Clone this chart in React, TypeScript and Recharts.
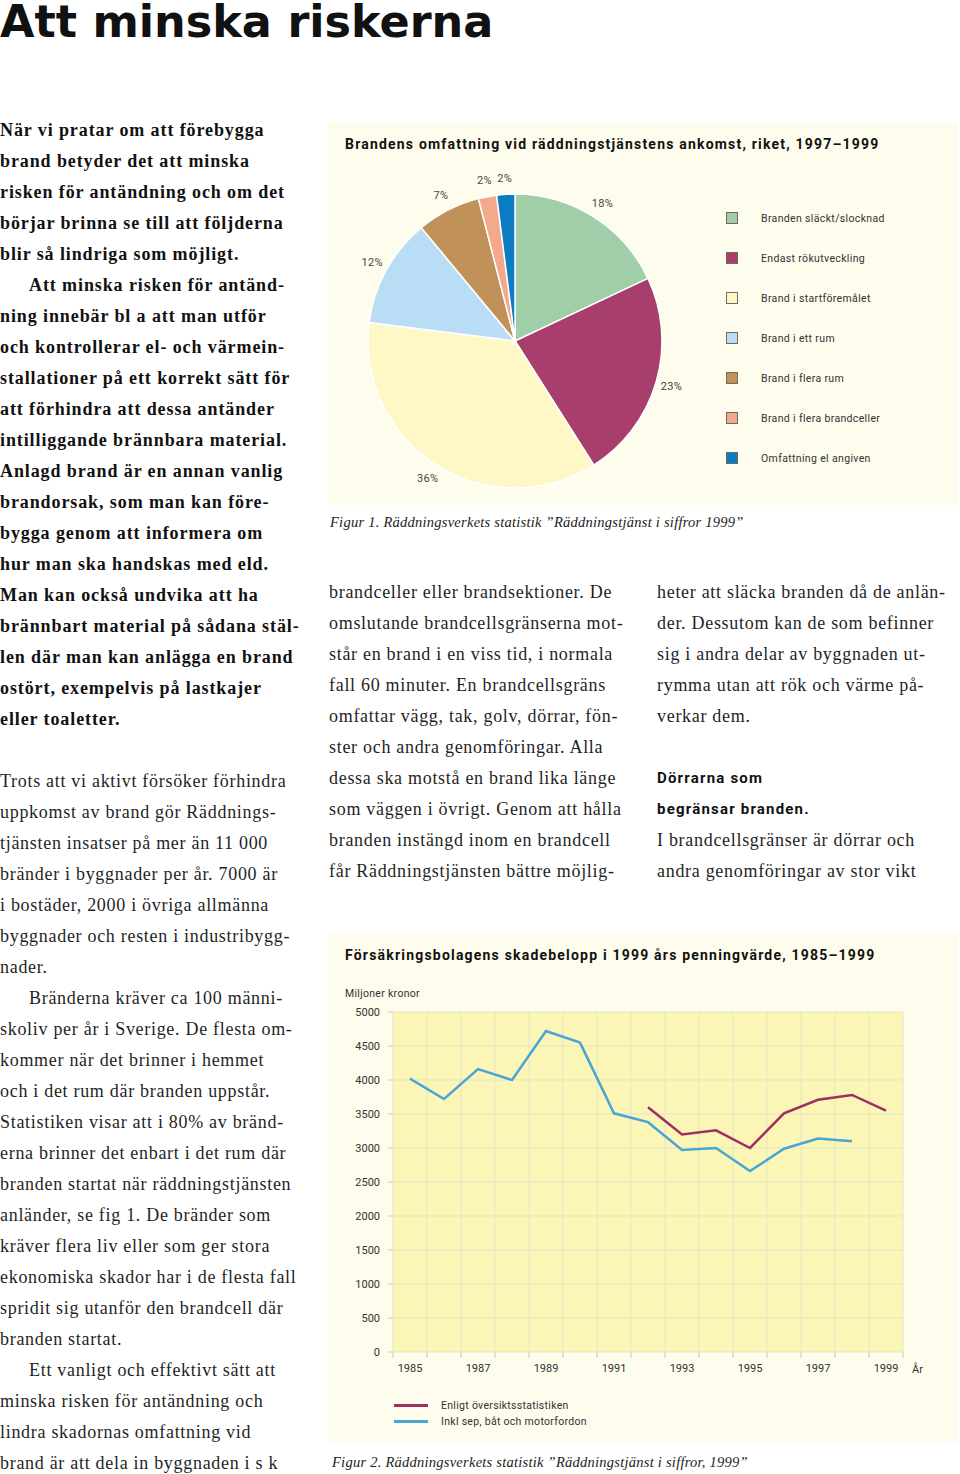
import { PieChart, Pie, Cell, LineChart, Line, XAxis, YAxis, CartesianGrid } from "recharts";

// --- figur 1: brandens omfattning vid ankomst ---
const pieLabels = [
  "Branden släckt/slocknad",
  "Endast rökutveckling",
  "Brand i startföremålet",
  "Brand i ett rum",
  "Brand i flera rum",
  "Brand i flera brandceller",
  "Omfattning el angiven",
];
const pieShares = [18, 23, 36, 12, 7, 2, 2];
const pieColors = ["#9fcea8", "#a83e6b", "#fdf8c6", "#b9ddf4", "#c0925a", "#f4a98d", "#0b7bc2"];

// --- figur 2: skadebelopp, miljoner kronor ---
const years = [1985, 1986, 1987, 1988, 1989, 1990, 1991, 1992, 1993, 1994, 1995, 1996, 1997, 1998, 1999];
const inklSep = [4020, 3720, 4160, 4000, 4720, 4550, 3510, 3380, 2970, 3000, 2660, 2990, 3140, 3100, null];
const oversikt = [null, null, null, null, null, null, null, 3600, 3200, 3260, 3000, 3510, 3710, 3780, 3550];
const yTicks = [0, 500, 1000, 1500, 2000, 2500, 3000, 3500, 4000, 4500, 5000];
const yearLabels = [1985, 1987, 1989, 1991, 1993, 1995, 1997, 1999];
const gridYears = [
  1984.5, 1985.5, 1986.5, 1987.5, 1988.5, 1989.5, 1990.5, 1991.5,
  1992.5, 1993.5, 1994.5, 1995.5, 1996.5, 1997.5, 1998.5, 1999.5,
];

const lineLegend = [
  { name: "Enligt översiktsstatistiken", color: "#9e2f62" },
  { name: "Inkl sep, båt och motorfordon", color: "#4aa5d6" },
];

// --- brödtext ---
const leftBold = [
  "När vi pratar om att förebygga",
  "brand betyder det att minska",
  "risken för antändning och om det",
  "börjar brinna se till att följderna",
  "blir så lindriga som möjligt.",
  "\tAtt minska risken för antänd-",
  "ning innebär bl a att man utför",
  "och kontrollerar el- och värmein-",
  "stallationer på ett korrekt sätt för",
  "att förhindra att dessa antänder",
  "intilliggande brännbara material.",
  "Anlagd brand är en annan vanlig",
  "brandorsak, som man kan före-",
  "bygga genom att informera om",
  "hur man ska handskas med eld.",
  "Man kan också undvika att ha",
  "brännbart material på sådana stäl-",
  "len där man kan anlägga en brand",
  "ostört, exempelvis på lastkajer",
  "eller toaletter.",
];
const leftPlain = [
  "Trots att vi aktivt försöker förhindra",
  "uppkomst av brand gör Räddnings-",
  "tjänsten insatser på mer än 11 000",
  "bränder i byggnader per år. 7000 är",
  "i bostäder, 2000 i övriga allmänna",
  "byggnader och resten i industribygg-",
  "nader.",
  "\tBränderna kräver ca 100 männi-",
  "skoliv per år i Sverige. De flesta om-",
  "kommer när det brinner i hemmet",
  "och i det rum där branden uppstår.",
  "Statistiken visar att i 80% av bränd-",
  "erna brinner det enbart i det rum där",
  "branden startat när räddningstjänsten",
  "anländer, se fig 1. De bränder som",
  "kräver flera liv eller som ger stora",
  "ekonomiska skador har i de flesta fall",
  "spridit sig utanför den brandcell där",
  "branden startat.",
  "\tEtt vanligt och effektivt sätt att",
  "minska risken för antändning och",
  "lindra skadornas omfattning vid",
  "brand är att dela in byggnaden i s k",
];
const midCol = [
  "brandceller eller brandsektioner. De",
  "omslutande brandcellsgränserna mot-",
  "står en brand i en viss tid, i normala",
  "fall 60 minuter. En brandcellsgräns",
  "omfattar vägg, tak, golv, dörrar, fön-",
  "ster och andra genomföringar. Alla",
  "dessa ska motstå en brand lika länge",
  "som väggen i övrigt. Genom att hålla",
  "branden instängd inom en brandcell",
  "får Räddningstjänsten bättre möjlig-",
];
const rightCol = [
  "heter att släcka branden då de anlän-",
  "der. Dessutom kan de som befinner",
  "sig i andra delar av byggnaden ut-",
  "rymma utan att rök och värme på-",
  "verkar dem.",
];
const rightHead = ["Dörrarna som", "begränsar branden."];
const rightTail = ["I brandcellsgränser är dörrar och", "andra genomföringar av stor vikt"];

const SERIF = "'Liberation Serif', 'Times New Roman', serif";
const SANS = "Roboto, 'Liberation Sans', sans-serif";
const LH = 31;
const PANEL = "#fefcec";

function TextLines({ lines, x, y, bold, color, family, size, spacing }: {
  lines: string[]; x: number; y: number; bold?: boolean; color?: string; family?: string; size?: number; spacing?: number;
}) {
  return (
    <>
      {lines.map((l, i) => (
        <div
          key={i}
          style={{
            position: "absolute",
            left: x + (l.startsWith("\t") ? 29 : 0),
            top: y + i * LH,
            fontFamily: family ?? SERIF,
            fontSize: size ?? 18,
            fontWeight: bold ? 700 : 400,
            letterSpacing: spacing ?? 0.7,
            lineHeight: `${LH}px`,
            color: color ?? "#1f1f1f",
            whiteSpace: "nowrap",
          }}
        >
          {l.replace("\t", "")}
        </div>
      ))}
    </>
  );
}

const RAD = Math.PI / 180;
function pctLabel(p: any) {
  const r = p.outerRadius + 16;
  const x = p.cx + r * Math.cos(-p.midAngle * RAD);
  const y = p.cy + r * Math.sin(-p.midAngle * RAD);
  return (
    <text x={x} y={y} textAnchor="middle" dominantBaseline="central" fontFamily={SANS} fontSize={11} fill="#444" letterSpacing={0.3}>
      {p.value}%
    </text>
  );
}

export default function App() {
  const pieData = pieLabels.map((name, i) => ({ name, value: pieShares[i] }));
  const lineData = years.map((year, i) => ({ year, inkl: inklSep[i], oversikt: oversikt[i] }));

  return (
    <div style={{ position: "absolute", left: 0, top: 0, width: 960, height: 1474, background: "#fff", overflow: "hidden" }}>
      <div
        style={{
          position: "absolute", left: 0, top: 0, fontFamily: "'DejaVu Sans', sans-serif", fontWeight: 700,
          fontSize: 44.5, lineHeight: "44px", color: "#111", whiteSpace: "nowrap",
        }}
      >
        Att minska riskerna
      </div>

      <TextLines lines={leftBold} x={0} y={115} bold color="#111" spacing={0.9} />
      <TextLines lines={leftPlain} x={0} y={115 + 21 * LH} />
      <TextLines lines={midCol} x={329} y={577} />
      <TextLines lines={rightCol} x={657} y={577} />
      <TextLines lines={rightHead} x={657} y={577 + 6 * LH} bold family={SANS} size={15} color="#111" spacing={1.2} />
      <TextLines lines={rightTail} x={657} y={577 + 8 * LH} />

      {/* Figur 1 */}
      <div style={{ position: "absolute", left: 328, top: 122, width: 630, height: 383, background: PANEL }}>
        <div style={{ position: "absolute", left: 17, top: 14, fontFamily: SANS, fontWeight: 700, fontSize: 14, letterSpacing: 1.2, color: "#111", whiteSpace: "nowrap" }}>
          Brandens omfattning vid räddningstjänstens ankomst, riket, 1997–1999
        </div>
        <PieChart width={630} height={383} style={{ position: "absolute", left: 0, top: 0 }}>
          <Pie
            data={pieData}
            dataKey="value"
            cx={182}
            cy={214}
            outerRadius={147}
            startAngle={90}
            endAngle={-270}
            stroke="#ffffff"
            strokeWidth={1.5}
            label={pctLabel}
            labelLine={false}
            isAnimationActive={false}
          >
            {pieData.map((d, i) => (
              <Cell key={d.name} fill={pieColors[i]} />
            ))}
          </Pie>
        </PieChart>
        {pieLabels.map((name, i) => (
          <div key={name} style={{ position: "absolute", left: 398, top: 90 + i * 40, height: 12, display: "flex", alignItems: "center" }}>
            <span style={{ width: 12, height: 12, background: pieColors[i], border: "1px solid #6d6d5a", boxSizing: "border-box", display: "inline-block" }} />
            <span style={{ marginLeft: 23, fontFamily: SANS, fontSize: 10.5, letterSpacing: 0.35, color: "#333", whiteSpace: "nowrap" }}>{name}</span>
          </div>
        ))}
      </div>
      <div style={{ position: "absolute", left: 330, top: 514, fontFamily: SERIF, fontStyle: "italic", fontSize: 14.5, letterSpacing: 0.25, color: "#222", whiteSpace: "nowrap" }}>
        Figur 1. Räddningsverkets statistik ”Räddningstjänst i siffror 1999”
      </div>

      {/* Figur 2 */}
      <div style={{ position: "absolute", left: 328, top: 933, width: 630, height: 509, background: PANEL }}>
        <div style={{ position: "absolute", left: 17, top: 14, fontFamily: SANS, fontWeight: 700, fontSize: 14, letterSpacing: 1.2, color: "#111", whiteSpace: "nowrap" }}>
          Försäkringsbolagens skadebelopp i 1999 års penningvärde, 1985–1999
        </div>
        <div style={{ position: "absolute", left: 17, top: 54, fontFamily: SANS, fontSize: 10.5, letterSpacing: 0.3, color: "#333" }}>Miljoner kronor</div>
        <LineChart
          width={630}
          height={509}
          data={lineData}
          margin={{ top: 79, right: 55, left: 15, bottom: 60 }}
          style={{ position: "absolute", left: 0, top: 0 }}
        >
          <CartesianGrid fill="#fcf6b6" stroke="#e2e5c6" strokeWidth={1} />
          <XAxis
            dataKey="year"
            type="number"
            domain={[1984.5, 1999.5]}
            ticks={gridYears}
            tickFormatter={() => ""}
            tickSize={6}
            tickLine={{ stroke: "#c9c9b8" }}
            axisLine={false}
            height={8}
          />
          <XAxis
            xAxisId="lbl"
            dataKey="year"
            type="number"
            domain={[1984.5, 1999.5]}
            ticks={yearLabels}
            tickLine={false}
            axisLine={false}
            tickSize={0}
            tickMargin={4}
            height={22}
            tick={{ fontFamily: SANS, fontSize: 11, fill: "#333" }}
          />
          <YAxis
            type="number"
            domain={[0, 5000]}
            ticks={yTicks}
            width={50}
            tickSize={5}
            tickMargin={8}
            axisLine={false}
            tickLine={{ stroke: "#c9c9b8" }}
            tick={{ fontFamily: SANS, fontSize: 11, fill: "#333" }}
          />
          <Line dataKey="inkl" stroke="#4aa5d6" strokeWidth={2.5} dot={false} isAnimationActive={false} />
          <Line dataKey="oversikt" stroke="#9e2f62" strokeWidth={2.5} dot={false} isAnimationActive={false} />
        </LineChart>
        <div style={{ position: "absolute", left: 584, top: 430, fontFamily: SANS, fontSize: 11, color: "#333" }}>År</div>
        {lineLegend.map((s, i) => (
          <div key={s.name} style={{ position: "absolute", left: 66, top: 466 + i * 16, height: 12, display: "flex", alignItems: "center" }}>
            <span style={{ width: 34, height: 3, background: s.color, display: "inline-block" }} />
            <span style={{ marginLeft: 13, fontFamily: SANS, fontSize: 10.5, letterSpacing: 0.3, color: "#333", whiteSpace: "nowrap" }}>{s.name}</span>
          </div>
        ))}
      </div>
      <div style={{ position: "absolute", left: 332, top: 1454, fontFamily: SERIF, fontStyle: "italic", fontSize: 14.5, letterSpacing: 0.25, color: "#222", whiteSpace: "nowrap" }}>
        Figur 2. Räddningsverkets statistik ”Räddningstjänst i siffror, 1999”
      </div>
    </div>
  );
}
